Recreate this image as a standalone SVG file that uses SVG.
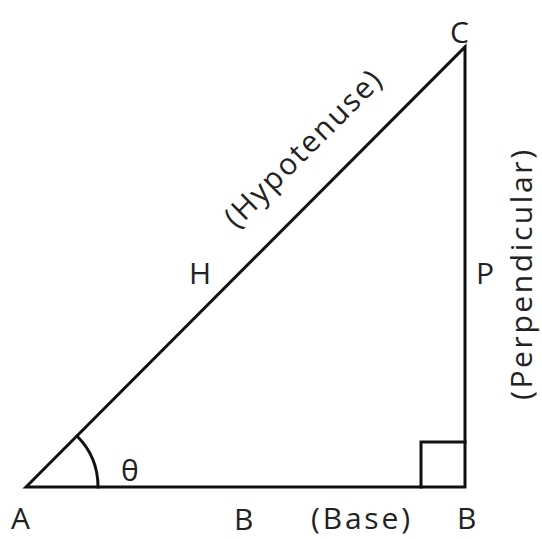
<svg xmlns="http://www.w3.org/2000/svg" width="542" height="539" viewBox="0 0 542 539">
<style>
.ln{stroke:#111;stroke-width:3;fill:none;stroke-linecap:square}
.t{font-family:"Open Sans","DejaVu Sans",sans-serif;font-size:30px;fill:#222}
</style>
<rect width="542" height="539" fill="#fff"/>
<g id="triangle">
<path class="ln" d="M26 487 L465 47 L465 487 Z"/>
</g>
<g id="right-angle">
<path class="ln" d="M421 487 L421 442 L465 442"/>
</g>
<g id="angle">
<path class="ln" d="M98 487 A72 72 0 0 0 77 436"/>
<text class="t" x="121" y="481">θ</text>
</g>
<g id="labels">
<text class="t" x="11" y="529">A</text>
<text class="t" x="234" y="530">B</text>
<text class="t" x="311" y="529" textLength="99">(Base)</text>
<text class="t" x="457" y="529">B</text>
<text class="t" x="450" y="43">C</text>
<text class="t" x="189" y="284">H</text>
<text class="t" x="476" y="284">P</text>
<text class="t" transform="translate(310,156) rotate(-45)" text-anchor="middle" textLength="208">(Hypotenuse)</text>
<text class="t" transform="translate(532,275) rotate(-90)" text-anchor="middle" textLength="250">(Perpendicular)</text>
</g>
</svg>
